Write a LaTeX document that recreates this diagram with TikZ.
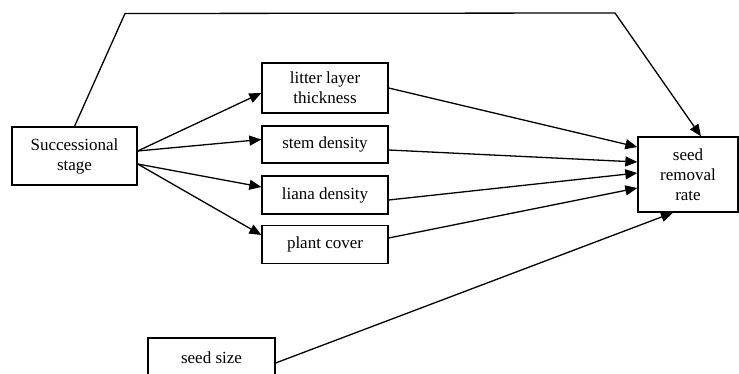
\documentclass[tikz,border=0pt]{standalone}
\usepackage{fontspec}
\setmainfont{Liberation Serif}
\usetikzlibrary{arrows.meta}
\begin{document}
\begin{tikzpicture}[x=1pt,y=-1pt,
  box/.style={draw,line width=1.3pt,align=center,inner sep=0pt,
    font=\fontsize{17}{20}\selectfont},
  conn/.style={line width=1.3pt,-{Triangle[length=12pt,width=10pt]}}]
\clip (0,0) rectangle (739,374);
\useasboundingbox (0,0) rectangle (739,374);
\node[box,minimum width=125pt,minimum height=58pt] (succ) at (74.5,156) {Successional\\stage};
\node[box,minimum width=126pt,minimum height=50pt] (litter) at (325,88) {litter layer\\thickness};
\node[box,minimum width=126pt,minimum height=37pt] (stem) at (325,144.5) {stem density};
\node[box,minimum width=126pt,minimum height=38pt] (liana) at (325,195) {liana density};
\node[box,minimum width=126pt,minimum height=38pt] (plant) at (325,244.5) {plant cover};
\node[box,minimum width=100pt,minimum height=75pt] (seed) at (688,174.5) {seed\\removal\\rate};
\node[box,minimum width=127pt,minimum height=40pt] (size) at (211.5,358) {seed size};
\coordinate (tl) at (125,13.5);
\coordinate (tr) at (615,13);
\draw[conn] ([yshift=5pt]succ.east) -- ([yshift=-5pt]litter.west);
\draw[conn] ([yshift=5pt]succ.east) -- ([yshift=5pt]stem.west);
\draw[conn] ([yshift=-8pt]succ.east) -- ([yshift=8pt]liana.west);
\draw[conn] ([yshift=-8pt]succ.east) -- ([yshift=9.5pt]plant.west);
\draw[conn] (litter.east) -- ([yshift=27.5pt]seed.west);
\draw[conn] ([yshift=-5.5pt]stem.east) -- ([yshift=12.5pt]seed.west);
\draw[conn] ([yshift=-5pt]liana.east) -- ([yshift=1.5pt]seed.west);
\draw[conn] ([yshift=6.5pt]plant.east) -- ([yshift=-13.5pt]seed.west);
\draw[conn] ([yshift=-5pt]size.east) -- ([xshift=-15pt]seed.south);
\draw[conn] (succ.north) -- (tl) -- (tr) -- ([xshift=13pt]seed.north);
\end{tikzpicture}
\end{document}
